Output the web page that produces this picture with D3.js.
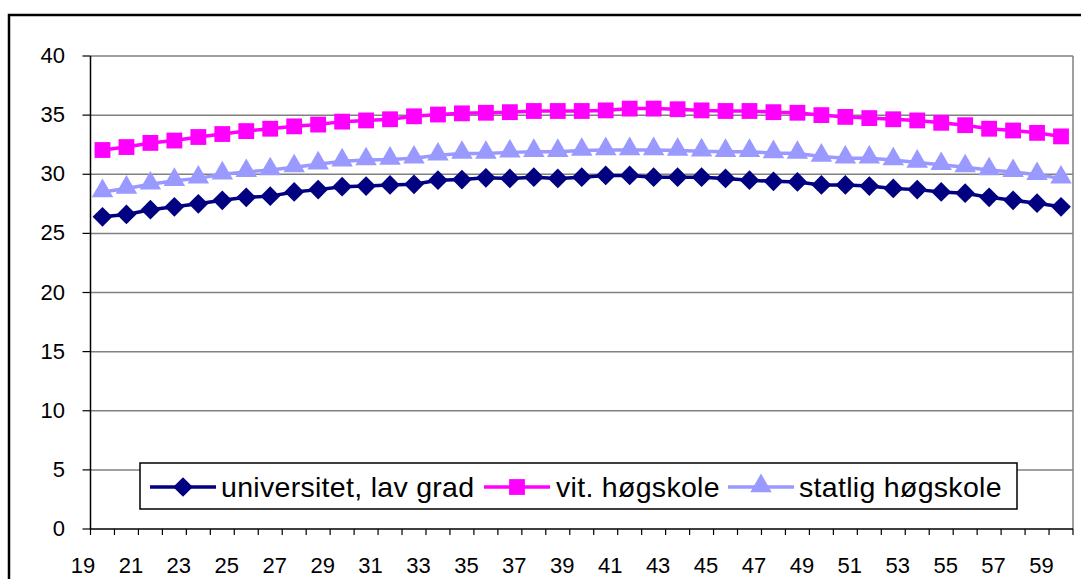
<!DOCTYPE html>
<html lang="no">
<head>
  <meta charset="UTF-8">
  <title>Alder</title>
  <script src="https://d3js.org/d3.v7.min.js"></script>
  <style>
    html, body {
      margin: 0;
      padding: 0;
      background: #fff;
    }
    svg text {
      font-family: "Liberation Sans", Arial, sans-serif;
      fill: #000;
    }
    .grid line {
      stroke: #808080;
      stroke-width: 1.5;
    }
    .series {
      fill: none;
      stroke-width: 3.5;
    }
  </style>
</head>
<body>
  <div id="container"></div>

  <script>
    // ages 19..59 on the category axis
    const ages = [19,20,21,22,23,24,25,26,27,28,29,30,31,32,33,34,35,36,37,38,39,
                  40,41,42,43,44,45,46,47,48,49,50,51,52,53,54,55,56,57,58,59];

    const universitet = [26.4,26.6,27.0,27.25,27.5,27.8,28.05,28.15,28.5,28.7,28.95,29.0,29.1,29.15,29.5,29.55,
                         29.7,29.65,29.75,29.65,29.75,29.9,29.9,29.75,29.75,29.75,29.65,29.5,29.4,29.35,29.1,
                         29.1,29.0,28.8,28.7,28.5,28.4,28.05,27.8,27.55,27.25];
    const vitHogskole = [32.05,32.3,32.65,32.85,33.15,33.4,33.65,33.85,34.05,34.2,34.45,34.55,34.65,34.9,35.05,35.15,
                         35.2,35.25,35.35,35.35,35.35,35.4,35.55,35.55,35.5,35.4,35.35,35.35,35.25,35.2,35.0,
                         34.85,34.75,34.65,34.55,34.35,34.15,33.85,33.7,33.5,33.2];
    const statligHogskole = [28.5,28.8,29.15,29.45,29.65,30.0,30.2,30.35,30.6,30.85,31.1,31.2,31.25,31.35,31.6,31.75,
                             31.75,31.85,31.9,31.9,32.0,32.05,32.05,32.05,32.0,31.95,31.9,31.9,31.8,31.75,31.5,
                             31.35,31.35,31.2,31.0,30.8,30.6,30.35,30.2,29.95,29.65];

    const yTicks = [0,5,10,15,20,25,30,35,40];
    const xLabels = ages.filter((d, i) => i % 2 === 0);

    const seriesNames = ['universitet, lav grad', 'vit. høgskole', 'statlig høgskole'];
    const seriesColors = ['#000080', '#ff00ff', '#9999ff'];
    const seriesValues = [universitet, vitHogskole, statligHogskole];

    const width = 1081;
    const height = 579;
    const plot = { left: 90.5, right: 1073, top: 56, bottom: 529 };

    const svg = d3.select('#container').append('svg')
      .attr('width', width).attr('height', height);

    // outer chart frame (runs off the right / bottom of the picture)
    svg.append('path')
      .attr('d', `M9,${height + 5}V15H${width + 5}`)
      .attr('fill', 'none').attr('stroke', '#000').attr('stroke-width', 2.5);

    const xScale = d3.scaleBand().domain(ages).range([plot.left, plot.right]);
    const yScale = d3.scaleLinear().domain([0, 40]).range([plot.bottom, plot.top]);

    // horizontal gridlines
    svg.append('g').attr('class', 'grid')
      .selectAll('line').data(yTicks.filter(d => d > 0)).join('line')
      .attr('x1', plot.left).attr('x2', plot.right)
      .attr('y1', d => yScale(d)).attr('y2', d => yScale(d));

    // right border of plot area
    svg.append('line')
      .attr('x1', plot.right).attr('x2', plot.right)
      .attr('y1', plot.top).attr('y2', plot.bottom)
      .attr('stroke', '#808080').attr('stroke-width', 1.5);

    // y axis
    const yAxis = svg.append('g');
    yAxis.append('line')
      .attr('x1', plot.left).attr('x2', plot.left)
      .attr('y1', plot.top).attr('y2', plot.bottom)
      .attr('stroke', '#000').attr('stroke-width', 1.5);
    yAxis.selectAll('.tick').data(yTicks).join('line')
      .attr('x1', plot.left - 8).attr('x2', plot.left)
      .attr('y1', d => yScale(d)).attr('y2', d => yScale(d))
      .attr('stroke', '#000').attr('stroke-width', 1.2);
    yAxis.selectAll('text').data(yTicks).join('text')
      .attr('x', 65).attr('y', d => yScale(d) + 7)
      .attr('text-anchor', 'end')
      .style('font-size', '22px')
      .text(d => d);

    // x axis
    const xAxis = svg.append('g');
    xAxis.append('line')
      .attr('x1', plot.left).attr('x2', plot.right)
      .attr('y1', plot.bottom).attr('y2', plot.bottom)
      .attr('stroke', '#000').attr('stroke-width', 1.5);
    xAxis.selectAll('line.tk').data(ages.concat(['end'])).join('line')
      .attr('class', 'tk')
      .attr('x1', d => d === 'end' ? plot.right : xScale(d))
      .attr('x2', d => d === 'end' ? plot.right : xScale(d))
      .attr('y1', plot.bottom).attr('y2', plot.bottom + 6)
      .attr('stroke', '#000').attr('stroke-width', 1.2);
    xAxis.selectAll('text').data(xLabels).join('text')
      .attr('x', d => xScale(d) - 7.5)
      .attr('y', 573)
      .attr('text-anchor', 'middle')
      .style('font-size', '22px')
      .text(d => d);

    // series
    const line = d3.line()
      .x((d, i) => xScale(ages[i]) + xScale.bandwidth() / 2)
      .y(d => yScale(d));

    const diamond = d3.symbol().type(d3.symbolSquare).size(195);
    const square = d3.symbol().type(d3.symbolSquare).size(250);
    const triangle = d3.symbol().type(d3.symbolTriangle).size(200);

    function drawMarker(g, k, x, y) {
      if (k === 0) {
        g.append('path').attr('d', diamond())
          .attr('transform', `translate(${x},${y}) rotate(45)`)
          .attr('fill', seriesColors[k]);
      } else if (k === 1) {
        g.append('path').attr('d', square())
          .attr('transform', `translate(${x},${y})`)
          .attr('fill', seriesColors[k]);
      } else {
        g.append('path').attr('d', triangle())
          .attr('transform', `translate(${x},${y - 1})`)
          .attr('fill', seriesColors[k]);
      }
    }

    seriesValues.forEach((vals, k) => {
      const g = svg.append('g');
      g.append('path').datum(vals).attr('d', line)
        .attr('class', 'series').attr('stroke', seriesColors[k]);
      vals.forEach((v, i) => {
        drawMarker(g, k, xScale(ages[i]) + xScale.bandwidth() / 2, yScale(v));
      });
    });

    // legend
    const legend = svg.append('g');
    legend.append('rect')
      .attr('x', 140).attr('y', 463).attr('width', 877).attr('height', 46)
      .attr('fill', '#fff').attr('stroke', '#000').attr('stroke-width', 1.5);

    const legendItems = [
      { lx: 150, tx: 221 },
      { lx: 484, tx: 556 },
      { lx: 728, tx: 799 }
    ];
    legendItems.forEach((it, k) => {
      const cy = 487;
      legend.append('line')
        .attr('x1', it.lx).attr('x2', it.lx + 66)
        .attr('y1', cy).attr('y2', cy)
        .attr('stroke', seriesColors[k]).attr('stroke-width', 3.5);
      drawMarker(legend, k, it.lx + 33, cy);
      legend.append('text')
        .attr('x', it.tx).attr('y', cy + 10)
        .style('font-size', '28.5px')
        .style('letter-spacing', '0.3px')
        .text(seriesNames[k]);
    });
  </script>
</body>
</html>
